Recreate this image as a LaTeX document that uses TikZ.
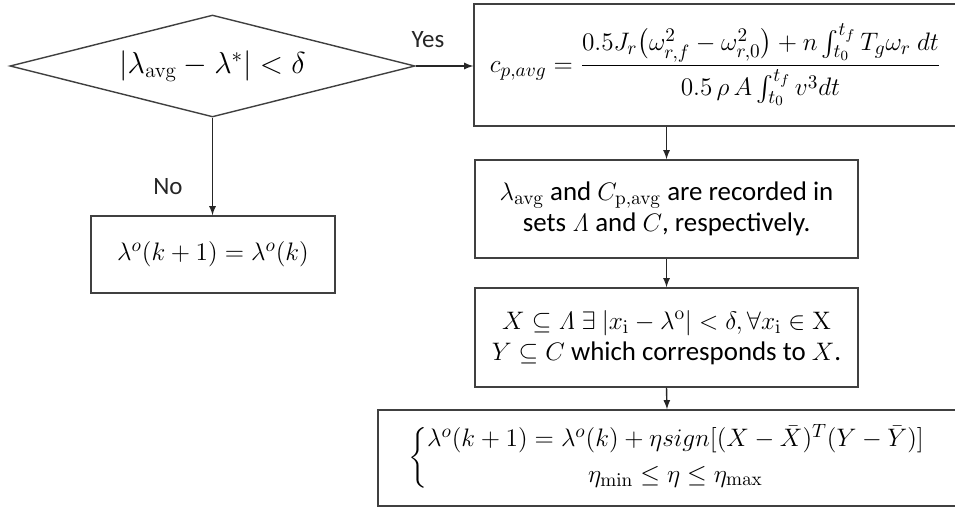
\documentclass[tikz,border=0pt]{standalone}
\usepackage{amsmath}
\usepackage[no-math]{fontspec}
\setmainfont{Carlito}
\usetikzlibrary{shapes.geometric}

\begin{document}
\begin{tikzpicture}[
    x=0.02cm, y=-0.02cm,
    box/.style={draw=black!75, line width=0.8pt, inner sep=0pt, align=center,
        font=\fontsize{15.3}{18}\selectfont},
    arr/.style={->, >=latex, line width=0.8pt, black!85},
    lbl/.style={font=\fontsize{14.2}{16}\selectfont, text=black!85},
]
\useasboundingbox (0,0) rectangle (955,508);

% === Decision: tip speed ratio close to the optimum ===
\node[diamond, draw=black!75, line width=0.8pt, inner sep=0pt, shape aspect=4,
    minimum width=8.1cm, minimum height=2.04cm,
    font=\fontsize{17.4}{20}\selectfont] (dec) at (212.5,66)
    {$\left|\lambda_{\mathrm{avg}}-\lambda^{*}\right|<\delta$};

% === Yes branch: average power coefficient ===
\node[box, minimum width=9.66cm, minimum height=2.44cm] (cp) at (715.5,65)
    {$c_{p,avg}=\dfrac{0.5J_r\bigl(\omega_{r,f}^{2}-\omega_{r,0}^{2}\bigr)
        +n\int_{t_0}^{t_f}T_g\omega_r\ dt}{0.5\,\rho\,A\int_{t_0}^{t_f}v^{3}dt}$};

% Recorded values
\node[box, minimum width=7.66cm, minimum height=1.96cm] (rec) at (666.5,209)
    {$\lambda_{\mathrm{avg}}$ and $C_{\mathrm{p,avg}}$ are recorded in\\
     sets $\mathit{\Lambda}$ and $C$, respectively.};

% Subsets near the current optimum
\node[box, minimum width=7.66cm, minimum height=1.98cm] (sets) at (666.5,337.5)
    {$X\subseteq\mathit{\Lambda}\ \exists\ |x_{\mathrm{i}}-\lambda^{\mathrm{o}}|<\delta,
      \forall x_{\mathrm{i}}\in\mathrm{X}$\\
     $Y\subseteq C$ which corresponds to $X$.};

% Update law
\node[box, minimum width=11.56cm, minimum height=1.92cm,
    font=\fontsize{15.5}{18}\selectfont] (upd) at (667,458)
    {$\left\{\begin{array}{@{}c@{}}
      \lambda^{o}(k+1)=\lambda^{o}(k)+\eta sign[(X-\bar{X})^{T}(Y-\bar{Y})]\\[2pt]
      \eta_{\min}\le\eta\le\eta_{\max}
     \end{array}\right.$};

% === No branch: keep the reference ===
\node[box, minimum width=4.88cm, minimum height=1.54cm] (keep) at (213,254.5)
    {$\lambda^{o}(k+1)=\lambda^{o}(k)$};

% Connectors
\draw[arr] (dec.east) -- (dec.east -| cp.west);
\draw[arr] (dec.south) -- (dec.south |- keep.north);
\draw[arr] (rec.north |- cp.south) -- (rec.north);
\draw[arr] (rec.south) -- (sets.north);
\draw[arr] (sets.south) -- (upd.north);

\node[lbl] (yes) at (428,40) {Yes};
\node[lbl] (no) at (168,187) {No};

\end{tikzpicture}
\end{document}
